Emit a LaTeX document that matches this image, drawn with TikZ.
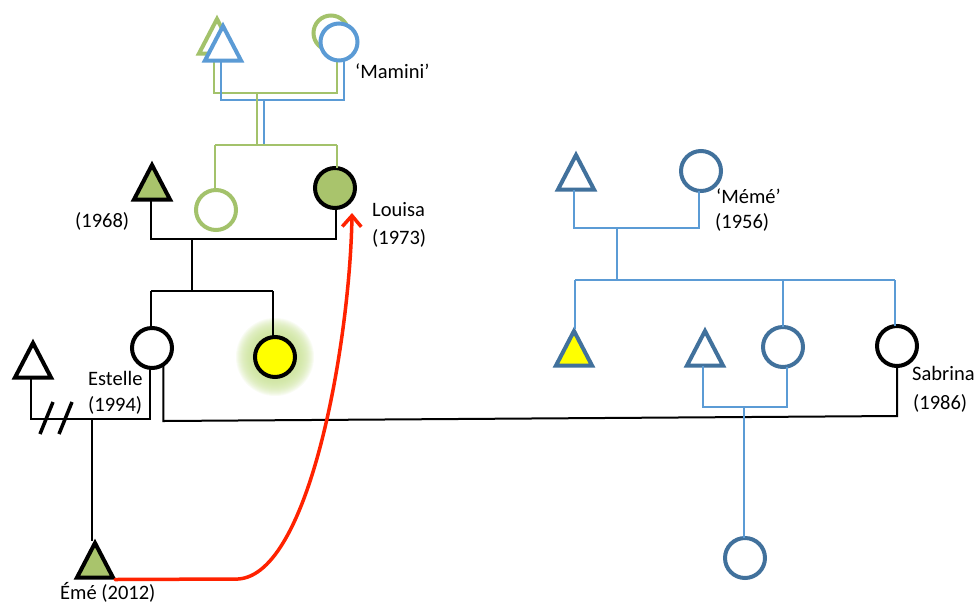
\documentclass[tikz,border=0pt]{standalone}
\usepackage{fontspec}
\setmainfont{Carlito}
\usetikzlibrary{arrows.meta}
\definecolor{grnS}{HTML}{A3C26B}
\definecolor{grnF}{HTML}{A9C46C}
\definecolor{bluT}{HTML}{5B9BD5}
\definecolor{bluS}{HTML}{41719C}
\definecolor{bluL}{HTML}{5B9BD5}
\definecolor{redA}{HTML}{FF2200}
\definecolor{glowc}{HTML}{CDE69A}
\definecolor{yel}{HTML}{FFFF00}
\tikzset{
  tri/.pic={
    \path[pic actions] (0,-16) -- (18,18.5) -- (-18,18.5) -- cycle;
    \coordinate (-t) at (0,-18);
    \coordinate (-b) at (0,18.5);
    \coordinate (-br) at (20,20.5);
  },
  con/.style={line width=2pt},
  blk/.style={con, draw=black},
  gl/.style={con, draw=grnS},
  bl/.style={con, draw=bluL},
  person/.style={circle, inner sep=0pt, outer sep=0pt, minimum size=40pt, line width=4pt, fill=white},
  femK/.style={person, draw=black},
  femB/.style={person, draw=bluS},
  femG/.style={person, draw=grnS},
  maleK/.style={draw=black, fill=white, line width=4pt},
  maleKG/.style={draw=black, fill=grnF, line width=4pt},
  maleB/.style={draw=bluS, fill=white, line width=4pt},
  maleBY/.style={draw=bluS, fill=yel, line width=4pt},
  lbl/.style={anchor=base west, inner sep=0pt, font=\fontsize{20.5}{24}\selectfont},
  redarr/.style={draw=redA, line width=3.5pt, line cap=round, -{Straight Barb[length=11pt,width=19pt]}},
  divmark/.style={draw=black, line width=3.5pt},
  glowring/.style={fill=glowc, fill opacity=0.11},
}
\begin{document}
\begin{tikzpicture}[x=1pt,y=-1pt]
\useasboundingbox (0,0) rectangle (979,603);
\fill[white] (0,0) rectangle (979,603);

% soft glow behind the yellow circle
\coordinate (glowC) at (275,357);
\foreach \r in {23,24,...,39} { \fill[glowring] (glowC) circle (\r); }

% ---------- top generation (green + blue overlap) ----------
\pic[draw=grnS, fill=white, line width=4pt] (gG) at (217,35) {tri};
\node[femG, minimum size=35pt] (cG) at (331,33) {};

\coordinate (jG) at (257,93);
\coordinate (jB) at (264,100);
\coordinate (kG) at (257,145);
\draw[gl] (gG-b -| 214,0) -- (214,93) -- (337,93) -- (cG.south -| 337,0);
\draw[bl] (221,62) -- (221,100) -- (344,100) -- (344,60);
\draw[gl] (jG) -- (kG);
\draw[bl] (jB) -- (jB |- kG);
\draw[gl] (215,145) -- (337,145);

\pic[draw=bluT, fill=white, line width=4pt] (gB) at (223,42) {tri};
\node[person, draw=bluT, minimum size=37pt] (cB) at (339,42) {};

% ---------- left family ----------
\pic[maleKG] (tA) at (152,181) {tri};
\node[femG] (cMa) at (216,210) {};
\node[femK, fill=grnF] (cL) at (335,188) {};
\node[femK] (cE) at (152,348) {};
\node[femK, fill=yel] (cY) at (glowC) {};
\pic[maleK] (tE) at (33,359) {tri};
\pic[maleKG] (tM) at (95,559) {tri};

\coordinate (pA) at (192,239);
\coordinate (sA) at (192,291);
\coordinate (dv) at (92,419);
\draw[gl] (215,145) -- (cMa.north -| 215,0);
\draw[gl] (337,145) -- (cL.north -| 337,0);
\draw[blk] (tA-b -| 151,0) -- (151,239) -- (336,239) -- (cL.south -| 336,0);
\draw[blk] (pA) -- (sA);
\draw[blk] (151,291) -- (273,291);
\draw[blk] (151,291) -- (cE.north -| 151,0);
\draw[blk] (273,291) -- (cY.north -| 273,0);
\draw[blk] (cE.-95) -- (cE.-95 |- dv) -- (31,419) -- (tE-b -| 31,0);
\draw[blk] (dv) -- (tM-t -| dv);
\draw[divmark] (53,402) -- (40,434);
\draw[divmark] (72,402) -- (59,434);

% ---------- right family ----------
\pic[maleB] (tR) at (576,171) {tri};
\node[femB] (cMe) at (701,171) {};
\pic[maleBY] (tY) at (574,347) {tri};
\pic[maleB] (tB2) at (705,347) {tri};
\node[femB] (cB2) at (783,347) {};
\node[femK] (cS) at (897,346) {};
\node[femB] (cC) at (745,558) {};

\coordinate (pR) at (617,228);
\coordinate (sR) at (617,280);
\coordinate (pC) at (744,407);
\draw[blk] (cE.-55) -- (cE.-55 |- 0,421) -- (cS.south |- 0,416) -- (cS.south);
\draw[bl] (tR-b -| 574,0) -- (574,228) -- (699,228) -- (cMe.south -| 699,0);
\draw[bl] (pR) -- (sR);
\draw[bl] (575,280) -- (895,280);
\draw[bl] (575,280) -- (tY-t -| 575,0);
\draw[bl] (783,280) -- (cB2.north);
\draw[bl] (895,280) -- (cS.north -| 895,0);
\draw[bl] (tB2-b -| 703,0) -- (703,407) -- (787,407) -- (cB2.south -| 787,0);
\draw[bl] (pC) -- (cC.north -| pC);

% ---------- labels ----------
\node[lbl] (lMa) at (355,78) {‘Mamini’};
\node[lbl] (l68) at (75,227) {(1968)};
\node[lbl] (lLo) at (372,216) {Louisa};
\node[lbl] (l73) at (372,244) {(1973)};
\node[lbl] (lEs) at (88,385) {Estelle};
\node[lbl] (l94) at (88,411) {(1994)};
\node[lbl] (lMe) at (716,203) {‘Mémé’};
\node[lbl] (l56) at (715,228) {(1956)};
\node[lbl] (lSa) at (912,380) {Sabrina};
\node[lbl] (l86) at (913,409) {(1986)};
\node[lbl] (lEm) at (60,599) {Émé (2012)};

% ---------- red arrow ----------
\coordinate (lt) at (352,213);
\draw[redarr] (tM-br) -- (238,579) .. controls (310,575) and (350,340) .. (lt);
\end{tikzpicture}
\end{document}
